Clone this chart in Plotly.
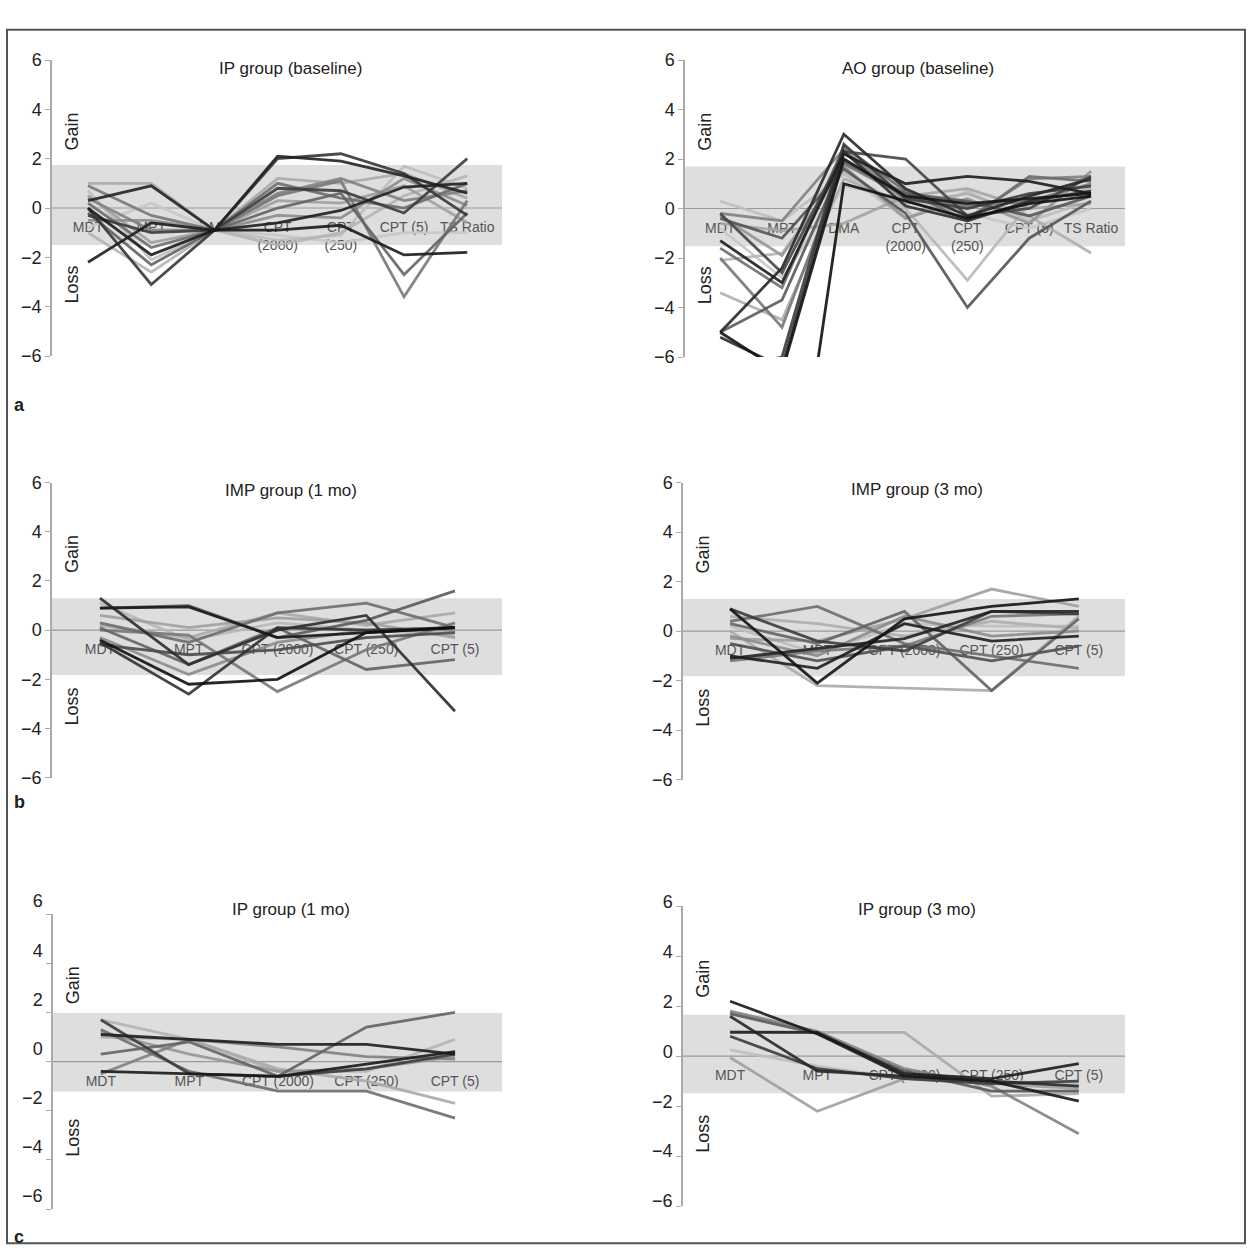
import plotly.graph_objects as go

W, H = 1252, 1260

# ---------------- data ----------------
cats7_ip = ["MDT", "MPT", "DMA", "CPT<br>(2000)", "CPT<br>(250)", "CPT (5)", "TS Ratio"]
cats7_ao = ["MDT", "MPT", "DMA", "CPT<br>(2000)", "CPT<br>(250)", "CPT (5)", "TS Ratio"]
cats5 = ["MDT", "MPT", "CPT (2000)", "CPT (250)", "CPT (5)"]
y_ticks = [-6, -4, -2, 0, 2, 4, 6]
y_ticktext = ["\u22126", "\u22124", "\u22122", "0", "2", "4", "6"]

ip_base = [
    [-2.2, -0.6, -0.9, -0.6, -0.1, 0.85, 1.0],
    [0.3, 0.9, -0.9, 2.1, 1.9, 1.3, 0.6],
    [0.0, -3.1, -0.9, 2.0, 2.2, 1.4, -0.3],
    [0.0, -1.9, -0.9, -0.9, -0.7, -1.9, -1.8],
    [1.0, 1.0, -0.9, 1.2, 1.0, 1.4, 0.4],
    [0.9, -0.3, -0.9, 0.5, 1.1, -3.6, 0.3],
    [-0.2, -2.3, -0.9, 0.0, 0.6, -2.7, -0.2],
    [-0.3, -1.0, -0.9, 0.8, 0.7, -0.2, 2.0],
    [0.7, -2.1, -0.9, -1.3, -1.1, 1.7, 0.8],
    [-1.0, -2.6, -0.9, -1.5, -1.0, 0.5, 1.3],
    [0.5, -1.4, -0.9, 0.3, 0.2, 0.9, -0.6],
    [-0.5, -0.5, -0.9, -0.3, -0.4, 1.2, 0.1],
    [0.2, -1.6, -0.9, 1.0, 0.4, 0.0, 1.0],
    [-0.8, 0.2, -0.9, -1.1, -1.4, -1.0, -1.0],
    [0.4, -0.9, -0.9, 0.6, 1.2, 0.3, 0.7],
]
ip_base_shades = [30, 35, 55, 25, 170, 120, 100, 60, 190, 180, 160, 140, 110, 200, 130]

ao_base = [
    [-1.3, -3.0, 2.2, 1.0, 1.3, 1.1, 0.6],
    [-5.0, -6.6, 2.0, 0.5, 0.2, 0.4, 0.6],
    [-5.0, -2.4, 3.0, 0.8, -0.3, 0.5, 1.2],
    [-9.0, -16.0, 1.0, 0.3, -0.4, 0.2, 0.5],
    [-5.2, -6.4, 2.3, 0.1, -0.5, 0.3, 0.7],
    [-0.2, -2.6, 2.3, 2.0, -0.3, 0.0, 1.3],
    [-0.4, -1.2, 1.6, -0.2, -4.0, -1.2, 0.3],
    [-2.1, -1.8, 1.5, 0.0, -2.9, 0.2, 0.8],
    [-3.4, -4.5, 1.2, 0.2, 0.6, -0.3, -1.8],
    [-2.0, -4.8, 1.8, 0.5, 0.1, 0.3, 1.0],
    [0.3, -0.5, 1.4, -0.4, 0.7, -0.5, 0.3],
    [-0.2, -0.5, 2.4, 0.3, -0.4, 1.2, 1.3],
    [-0.3, -1.9, 1.7, -0.4, 0.4, -0.6, 1.5],
    [-5.0, -3.7, 1.9, 0.6, 0.3, -0.3, 0.5],
    [-1.6, -3.2, 2.5, 0.7, -0.5, 1.3, 1.1],
    [-0.8, -2.8, 0.9, 0.4, -0.2, -0.8, 0.0],
    [-0.6, -0.9, -0.6, 0.5, 0.8, 0.0, 0.2],
    [-6.5, -6.0, 2.6, 0.4, 0.0, 0.6, 0.9],
]
ao_base_shades = [30, 20, 40, 15, 45, 70, 85, 185, 175, 120, 190, 130, 150, 90, 110, 200, 165, 60]

imp_1mo = [
    [0.9, 0.95, -0.3, -0.1, 0.1],
    [-0.4, -2.2, -2.0, -0.1, 0.1],
    [-0.5, -2.6, 0.1, 0.0, 0.1],
    [1.3, -1.4, 0.0, 0.6, -3.3],
    [0.3, -0.5, 0.7, 1.1, 0.1],
    [0.0, -0.2, -2.5, -0.8, 0.3],
    [0.9, 1.0, -0.3, 0.4, 1.6],
    [0.1, -1.4, 0.1, -1.6, -1.2],
    [0.2, -0.3, 0.7, 0.2, 0.7],
    [-0.3, -1.8, -0.5, 0.0, 0.0],
    [1.1, -0.4, 0.3, 0.0, -0.2],
    [-0.6, -1.0, -0.8, -0.3, -0.1],
    [0.6, 0.1, 0.5, 0.3, -0.3],
]
imp_1mo_shades = [25, 15, 50, 45, 110, 120, 90, 100, 170, 140, 185, 75, 160]

imp_3mo = [
    [0.9, -2.1, 0.5, 1.0, 1.3],
    [-1.0, -1.5, 0.3, -0.4, -0.2],
    [-1.1, -0.7, -0.3, 0.8, 0.8],
    [0.4, 1.0, -0.5, -1.0, -1.5],
    [0.0, -2.2, -2.3, -2.4, 0.6],
    [0.3, -0.5, 0.8, -2.4, 0.5],
    [-0.3, -0.4, 0.5, 1.7, 1.0],
    [0.9, -0.4, -0.8, 0.8, 0.7],
    [0.2, -0.9, 0.3, 0.2, 0.2],
    [-0.5, -1.2, -0.6, -1.2, -0.6],
    [0.6, 0.3, -0.2, 0.4, 0.1],
    [-0.2, -1.0, 0.6, -0.2, 0.0],
    [-1.2, -0.8, -0.6, 0.6, 0.7],
]
imp_3mo_shades = [20, 30, 35, 110, 170, 100, 160, 60, 190, 80, 175, 140, 120]

ip_1mo = [
    [-0.4, -0.5, -0.6, -0.1, 0.4],
    [1.7, -0.5, -0.6, -0.3, 0.3],
    [1.1, 0.9, 0.7, 0.7, 0.3],
    [0.3, 0.8, -0.6, 1.4, 2.0],
    [1.7, 0.9, -0.4, -0.4, 0.9],
    [1.3, -0.4, -1.2, -1.2, -2.3],
    [1.0, 0.9, -0.3, -0.8, -1.7],
    [-0.5, 0.9, 0.6, 0.2, 0.1],
    [1.2, 0.3, -0.4, -0.3, 0.2],
]
ip_1mo_shades = [25, 60, 30, 100, 180, 110, 170, 130, 150]

ip_3mo = [
    [2.2, 0.9, -0.8, -1.0, -1.8],
    [0.95, 0.95, -0.7, -0.9, -0.3],
    [1.6, -0.6, -0.8, -1.0, -1.2],
    [-0.05, -2.2, -0.9, -1.1, -1.3],
    [1.0, 0.95, 0.95, -1.6, -1.5],
    [1.8, 1.0, -0.5, -1.2, -3.1],
    [0.8, -0.5, -0.9, -1.1, -1.0],
    [0.25, -0.4, -0.9, -1.0, -1.1],
    [1.7, 0.9, -0.6, -1.4, -1.4],
]
ip_3mo_shades = [25, 30, 40, 160, 170, 130, 60, 190, 90]

# normal range bands (low, high)
band_ip_base = (-1.5, 1.74)
band_ao_base = (-1.52, 1.7)
band_imp_1mo = (-1.82, 1.3)
band_imp_3mo = (-1.82, 1.3)
band_ip_1mo = (-1.22, 1.98)
band_ip_3mo = (-1.48, 1.66)

# ---------------- layout of panels (pixel boxes) ----------------
panels = [
    dict(title="IP group (baseline)", cats=cats7_ip, data=ip_base, shades=ip_base_shades,
         band=band_ip_base, box=(52, 502, 38, 342), xr=(-0.57, 6.55), shift=0, ty=47),
    dict(title="AO group (baseline)", cats=cats7_ao, data=ao_base, shades=ao_base_shades,
         band=band_ao_base, box=(685, 1125, 38, 343), xr=(-0.57, 6.55), shift=0, ty=47),
    dict(title="IMP group (1 mo)", cats=cats5, data=imp_1mo, shades=imp_1mo_shades,
         band=band_imp_1mo, box=(52, 502, 472, 775), xr=(-0.54, 4.53), shift=0, ty=480),
    dict(title="IMP group (3 mo)", cats=cats5, data=imp_3mo, shades=imp_3mo_shades,
         band=band_imp_3mo, box=(683, 1125, 472, 777), xr=(-0.54, 4.53), shift=0, ty=479),
    dict(title="IP group (1 mo)", cats=cats5, data=ip_1mo, shades=ip_1mo_shades,
         band=band_ip_1mo, box=(53, 502, 915, 1218), xr=(-0.54, 4.53), shift=-13, ty=910),
    dict(title="IP group (3 mo)", cats=cats5, data=ip_3mo, shades=ip_3mo_shades,
         band=band_ip_3mo, box=(683, 1125, 907, 1215), xr=(-0.54, 4.53), shift=-5, ty=910),
]

FONT = "Arial, 'Liberation Sans', sans-serif"
fig = go.Figure()
layout = dict(
    width=W, height=H, margin=dict(l=0, r=0, t=0, b=0),
    paper_bgcolor="white", plot_bgcolor="rgba(0,0,0,0)",
    showlegend=False, font=dict(family=FONT, color="#222"),
)
shapes = []
annotations = []

for i, p in enumerate(panels, start=1):
    xa = "x" if i == 1 else f"x{i}"
    ya = "y" if i == 1 else f"y{i}"
    xkey = "xaxis" if i == 1 else f"xaxis{i}"
    ykey = "yaxis" if i == 1 else f"yaxis{i}"
    x0, x1, y0, y1 = p["box"]
    layout[xkey] = dict(domain=[x0 / W, x1 / W], range=list(p["xr"]), visible=False,
                        anchor=ya, fixedrange=True)
    layout[ykey] = dict(domain=[1 - y1 / H, 1 - y0 / H], range=[-6, 6], anchor=xa,
                        tickvals=y_ticks, ticktext=y_ticktext, ticks="outside",
                        ticklen=5, tickcolor="#aaaaaa", showline=True,
                        linecolor="#aaaaaa", linewidth=1.5, showgrid=False,
                        zeroline=False, tickfont=dict(size=18, color="#222"),
                        ticklabelshift=p["shift"], fixedrange=True)
    lo, hi = p["band"]
    shapes.append(dict(type="rect", xref=f"{xa} domain", yref=ya, x0=0, x1=1,
                       y0=lo, y1=hi, fillcolor="#dedede", line=dict(width=0),
                       layer="below"))
    shapes.append(dict(type="line", xref=f"{xa} domain", yref=ya, x0=0, x1=1,
                       y0=0, y1=0, line=dict(color="#9a9a9a", width=1.2),
                       layer="below"))
    n = len(p["cats"])
    xs = list(range(n))
    # category labels along the baseline
    fig.add_trace(go.Scatter(x=xs, y=[-0.55] * n, text=p["cats"], mode="text",
                             textposition="bottom center",
                             textfont=dict(size=14, color="#555555", family=FONT),
                             xaxis=xa, yaxis=ya, hoverinfo="skip"))
    # draw lighter lines first so dark lines sit on top
    order = sorted(range(len(p["data"])), key=lambda k: -p["shades"][k])
    for k in order:
        g = p["shades"][k]
        fig.add_trace(go.Scatter(x=xs, y=p["data"][k], mode="lines",
                                 line=dict(color=f"rgb({g},{g},{g})", width=2.8),
                                 opacity=0.9, xaxis=xa, yaxis=ya,
                                 hoverinfo="skip"))
    # title
    annotations.append(dict(text=p["title"], xref=f"{xa} domain", yref="paper",
                            x=0.53, y=1 - p["ty"] / H, xanchor="center",
                            yanchor="middle", showarrow=False,
                            font=dict(size=17, color="#222")))
    # Gain / Loss
    for word, val in (("Gain", 3.1), ("Loss", -3.1)):
        annotations.append(dict(text=word, xref=f"{xa} domain", yref=ya, x=0,
                                xshift=20, y=val, xanchor="center", yanchor="middle",
                                textangle=-90, showarrow=False,
                                font=dict(size=18, color="#222")))

for letter, ypx in (("a", 392), ("b", 800), ("c", 1247)):
    annotations.append(dict(text=f"<b>{letter}</b>", xref="paper", yref="paper",
                            x=12 / W, y=1 - ypx / H, xanchor="left", yanchor="middle",
                            showarrow=False, font=dict(size=18, color="#222")))

shapes.append(dict(type="rect", xref="paper", yref="paper", x0=7 / W, x1=1245 / W,
                   y0=1 - 1253 / H, y1=1 - 7 / H, line=dict(color="#555555", width=2),
                   fillcolor="rgba(0,0,0,0)"))

layout["shapes"] = shapes
layout["annotations"] = annotations
fig.update_layout(**layout)
fig.write_html("out.html")
